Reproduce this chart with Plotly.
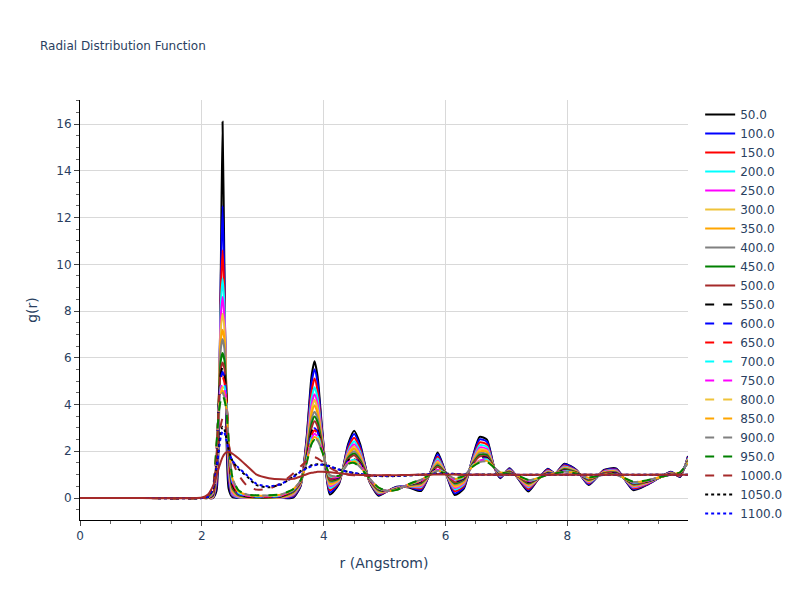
import plotly.graph_objects as go

# r grid (Angstrom)
r = [0.0, 1.0, 2.0, 2.1, 2.18, 2.24, 2.28, 2.31, 2.34, 2.37, 2.40, 2.44, 2.5,
     2.6, 2.75, 2.9, 3.1, 3.3, 3.5, 3.62, 3.72, 3.8, 3.85, 3.9, 3.98, 4.1,
     4.25, 4.4, 4.5, 4.6, 4.75, 4.9, 5.05, 5.2, 5.4, 5.6, 5.75, 5.87, 6.0,
     6.15, 6.3, 6.45, 6.56, 6.68, 6.8, 6.9, 7.05, 7.2, 7.36, 7.52, 7.68, 7.8,
     7.95, 8.15, 8.35, 8.6, 8.8, 9.08, 9.3, 9.5, 9.7, 9.85, 9.98]

temperatures = ["50.0", "100.0", "150.0", "200.0", "250.0", "300.0", "350.0",
                "400.0", "450.0", "500.0", "550.0", "600.0", "650.0", "700.0",
                "750.0", "800.0", "850.0", "900.0", "950.0", "1000.0",
                "1050.0", "1100.0"]

g_50 = [0, 0, 0, 0, 0.0, 0.3, 3.0, 9.5, 16.1, 10.0, 3.2, 0.4, 0.05, 0, 0, 0, 0, 0,
        0.02, 0.5, 2.6, 5.2, 5.85, 5.2, 2.8, 0.15, 0.6, 2.3, 2.88, 2.3, 0.7, 0.1, 0.3,
        0.48, 0.45, 0.3, 1.1, 1.95, 1.1, 0.13, 0.4, 1.8, 2.62, 2.5, 1.3, 0.85, 1.27,
        0.8, 0.28, 0.8, 1.25, 1.05, 1.47, 1.2, 0.56, 1.2, 1.27, 0.34, 0.55, 0.85,
        1.12, 0.9, 1.8]
g_100 = [0, 0, 0, 0, 0.0, 0.5, 3.6, 9.2, 12.5, 9.4, 3.9, 0.7, 0.08, 0.01, 0, 0, 0, 0,
         0.06, 0.53, 2.49, 4.91, 5.51, 4.92, 2.72, 0.24, 0.64, 2.22, 2.74, 2.2, 0.72,
         0.14, 0.3, 0.47, 0.47, 0.35, 1.09, 1.87, 1.1, 0.2, 0.46, 1.76, 2.51, 2.41,
         1.3, 0.88, 1.25, 0.82, 0.33, 0.81, 1.23, 1.05, 1.44, 1.19, 0.59, 1.18, 1.24,
         0.38, 0.57, 0.85, 1.11, 0.92, 1.77]
g_150 = [0, 0, 0, 0, 0.01, 0.7, 4.0, 8.7, 10.6, 8.8, 4.4, 1.0, 0.12, 0.02, 0, 0, 0, 0.01,
         0.1, 0.56, 2.36, 4.56, 5.11, 4.58, 2.61, 0.34, 0.68, 2.11, 2.58, 2.08, 0.73,
         0.18, 0.3, 0.45, 0.48, 0.41, 1.08, 1.77, 1.09, 0.29, 0.52, 1.7, 2.38, 2.29,
         1.3, 0.91, 1.22, 0.83, 0.39, 0.81, 1.2, 1.05, 1.39, 1.17, 0.63, 1.16, 1.21,
         0.42, 0.59, 0.86, 1.09, 0.94, 1.73]
g_200 = [0, 0, 0, 0, 0.02, 0.9, 4.2, 8.2, 9.4, 8.3, 4.7, 1.2, 0.17, 0.03, 0.01, 0, 0, 0.01,
         0.14, 0.58, 2.24, 4.24, 4.74, 4.28, 2.52, 0.43, 0.72, 2.02, 2.43, 1.97, 0.75,
         0.22, 0.3, 0.44, 0.5, 0.47, 1.07, 1.69, 1.08, 0.37, 0.58, 1.65, 2.26, 2.19,
         1.3, 0.93, 1.2, 0.85, 0.45, 0.82, 1.17, 1.05, 1.35, 1.15, 0.67, 1.13, 1.18,
         0.46, 0.62, 0.86, 1.08, 0.97, 1.7]
g_250 = [0, 0, 0, 0, 0.03, 1.05, 4.3, 7.7, 8.6, 7.8, 4.8, 1.4, 0.22, 0.05, 0.01, 0, 0, 0.02,
         0.17, 0.61, 2.14, 3.98, 4.44, 4.02, 2.44, 0.51, 0.75, 1.94, 2.3, 1.88, 0.76,
         0.25, 0.3, 0.43, 0.51, 0.51, 1.06, 1.61, 1.08, 0.43, 0.63, 1.61, 2.16, 2.1,
         1.3, 0.96, 1.18, 0.86, 0.49, 0.82, 1.15, 1.05, 1.32, 1.14, 0.69, 1.12, 1.16,
         0.49, 0.63, 0.86, 1.07, 0.98, 1.67]
g_300 = [0, 0, 0, 0, 0.04, 1.2, 4.4, 7.2, 7.9, 7.3, 4.9, 1.6, 0.28, 0.07, 0.02, 0.01, 0.01, 0.03,
         0.2, 0.62, 2.06, 3.78, 4.2, 3.83, 2.38, 0.57, 0.77, 1.88, 2.2, 1.81, 0.77,
         0.27, 0.3, 0.42, 0.52, 0.55, 1.05, 1.56, 1.08, 0.48, 0.67, 1.58, 2.08, 2.03,
         1.3, 0.97, 1.16, 0.87, 0.53, 0.82, 1.13, 1.05, 1.3, 1.13, 0.72, 1.1, 1.14,
         0.52, 0.65, 0.86, 1.06, 1.0, 1.65]
g_350 = [0, 0, 0, 0, 0.06, 1.35, 4.4, 6.7, 7.2, 6.8, 4.9, 1.75, 0.34, 0.09, 0.03, 0.01, 0.01, 0.04,
         0.22, 0.64, 1.98, 3.58, 3.96, 3.63, 2.32, 0.63, 0.8, 1.82, 2.11, 1.74, 0.78,
         0.3, 0.3, 0.41, 0.53, 0.58, 1.04, 1.5, 1.07, 0.53, 0.71, 1.55, 2.0, 1.97,
         1.3, 0.99, 1.15, 0.88, 0.56, 0.83, 1.11, 1.05, 1.27, 1.12, 0.74, 1.09, 1.12,
         0.54, 0.66, 0.87, 1.05, 1.01, 1.63]
g_400 = [0, 0, 0, 0, 0.08, 1.5, 4.4, 6.35, 6.8, 6.4, 4.85, 1.9, 0.4, 0.11, 0.04, 0.02, 0.02, 0.05,
         0.25, 0.66, 1.9, 3.34, 3.69, 3.41, 2.26, 0.69, 0.82, 1.76, 2.0, 1.66, 0.8,
         0.32, 0.3, 0.4, 0.55, 0.62, 1.04, 1.44, 1.07, 0.59, 0.75, 1.51, 1.92, 1.89,
         1.3, 1.01, 1.13, 0.9, 0.6, 0.83, 1.09, 1.05, 1.25, 1.1, 0.77, 1.07, 1.1,
         0.57, 0.68, 0.87, 1.04, 1.03, 1.61]
g_450 = [0, 0, 0, 0, 0.1, 1.6, 4.3, 5.85, 6.2, 5.9, 4.7, 2.0, 0.46, 0.13, 0.05, 0.02, 0.02, 0.06,
         0.27, 0.68, 1.83, 3.17, 3.49, 3.24, 2.21, 0.75, 0.85, 1.71, 1.91, 1.6, 0.81,
         0.35, 0.3, 0.39, 0.56, 0.65, 1.03, 1.39, 1.07, 0.63, 0.79, 1.49, 1.85, 1.84,
         1.3, 1.03, 1.12, 0.91, 0.63, 0.84, 1.08, 1.05, 1.23, 1.1, 0.78, 1.06, 1.08,
         0.59, 0.69, 0.87, 1.04, 1.04, 1.59]
g_500 = [0, 0, 0, 0, 0.12, 1.7, 4.2, 5.5, 5.8, 5.55, 4.6, 2.1, 0.52, 0.15, 0.06, 0.03, 0.03, 0.07,
         0.29, 0.69, 1.76, 3.0, 3.29, 3.07, 2.15, 0.8, 0.87, 1.65, 1.83, 1.54, 0.81,
         0.37, 0.3, 0.38, 0.56, 0.68, 1.02, 1.34, 1.06, 0.68, 0.82, 1.46, 1.78, 1.78,
         1.3, 1.04, 1.1, 0.91, 0.66, 0.84, 1.06, 1.05, 1.2, 1.09, 0.8, 1.05, 1.07,
         0.61, 0.7, 0.87, 1.03, 1.05, 1.57]
g_550 = [0, 0, 0, 0.01, 0.14, 1.8, 4.15, 5.3, 5.6, 5.35, 4.5, 2.2, 0.58, 0.17, 0.07, 0.04, 0.04, 0.08,
         0.32, 0.71, 1.7, 2.82, 3.09, 2.9, 2.1, 0.85, 0.89, 1.6, 1.75, 1.48, 0.82,
         0.39, 0.3, 0.37, 0.57, 0.71, 1.02, 1.29, 1.06, 0.72, 0.85, 1.43, 1.72, 1.72,
         1.3, 1.06, 1.09, 0.92, 0.69, 0.84, 1.05, 1.05, 1.18, 1.08, 0.82, 1.04, 1.05,
         0.64, 0.71, 0.87, 1.02, 1.06, 1.55]
g_600 = [0, 0, 0, 0.01, 0.16, 1.9, 4.1, 5.1, 5.4, 5.15, 4.4, 2.25, 0.63, 0.19, 0.08, 0.05, 0.05, 0.09,
         0.33, 0.71, 1.67, 2.74, 2.99, 2.82, 2.08, 0.87, 0.9, 1.58, 1.71, 1.45, 0.83,
         0.4, 0.3, 0.37, 0.58, 0.73, 1.02, 1.27, 1.06, 0.74, 0.87, 1.42, 1.69, 1.69,
         1.3, 1.06, 1.08, 0.93, 0.71, 0.84, 1.04, 1.05, 1.17, 1.07, 0.83, 1.03, 1.04,
         0.65, 0.72, 0.88, 1.02, 1.07, 1.55]
g_650 = [0, 0, 0, 0.02, 0.18, 1.95, 4.0, 4.9, 5.2, 4.95, 4.3, 2.3, 0.68, 0.21, 0.09, 0.06, 0.06, 0.1,
         0.34, 0.72, 1.64, 2.66, 2.9, 2.75, 2.06, 0.89, 0.91, 1.56, 1.67, 1.43, 0.83,
         0.41, 0.3, 0.37, 0.58, 0.74, 1.01, 1.25, 1.06, 0.76, 0.88, 1.41, 1.66, 1.67,
         1.3, 1.07, 1.08, 0.93, 0.72, 0.84, 1.03, 1.05, 1.16, 1.07, 0.84, 1.03, 1.03,
         0.66, 0.73, 0.88, 1.02, 1.08, 1.54]
g_700 = [0, 0, 0, 0.02, 0.2, 2.0, 3.95, 4.75, 5.0, 4.8, 4.2, 2.35, 0.73, 0.23, 0.1, 0.07, 0.07, 0.11,
         0.34, 0.73, 1.61, 2.59, 2.82, 2.68, 2.04, 0.92, 0.92, 1.54, 1.64, 1.4, 0.84,
         0.42, 0.3, 0.36, 0.59, 0.75, 1.01, 1.23, 1.06, 0.78, 0.9, 1.4, 1.63, 1.65,
         1.3, 1.08, 1.07, 0.94, 0.73, 0.85, 1.03, 1.05, 1.16, 1.07, 0.85, 1.02, 1.03,
         0.66, 0.73, 0.88, 1.01, 1.08, 1.53]
g_750 = [0, 0, 0, 0.02, 0.22, 2.05, 3.9, 4.65, 4.9, 4.7, 4.15, 2.4, 0.77, 0.25, 0.11, 0.08, 0.08, 0.12,
         0.35, 0.73, 1.59, 2.53, 2.75, 2.62, 2.02, 0.93, 0.92, 1.52, 1.61, 1.38, 0.84,
         0.42, 0.3, 0.36, 0.59, 0.76, 1.01, 1.21, 1.05, 0.79, 0.91, 1.39, 1.61, 1.63,
         1.3, 1.08, 1.07, 0.94, 0.74, 0.85, 1.02, 1.05, 1.15, 1.06, 0.85, 1.02, 1.02,
         0.67, 0.73, 0.88, 1.01, 1.08, 1.52]
g_800 = [0, 0, 0, 0.03, 0.24, 2.1, 3.85, 4.5, 4.75, 4.55, 4.05, 2.42, 0.81, 0.27, 0.12, 0.09, 0.09, 0.13,
         0.36, 0.74, 1.57, 2.47, 2.68, 2.57, 2.0, 0.95, 0.93, 1.5, 1.58, 1.36, 0.84,
         0.43, 0.3, 0.36, 0.59, 0.77, 1.01, 1.2, 1.05, 0.81, 0.92, 1.38, 1.59, 1.61,
         1.3, 1.09, 1.06, 0.94, 0.75, 0.85, 1.02, 1.05, 1.14, 1.06, 0.86, 1.01, 1.02,
         0.68, 0.74, 0.88, 1.01, 1.09, 1.52]
g_850 = [0, 0, 0, 0.03, 0.26, 2.15, 3.8, 4.38, 4.6, 4.42, 3.95, 2.44, 0.85, 0.29, 0.13, 0.1, 0.1, 0.14,
         0.37, 0.74, 1.54, 2.42, 2.61, 2.51, 1.98, 0.97, 0.94, 1.48, 1.56, 1.34, 0.84,
         0.44, 0.3, 0.36, 0.59, 0.78, 1.0, 1.18, 1.05, 0.82, 0.93, 1.37, 1.56, 1.59,
         1.3, 1.09, 1.06, 0.94, 0.76, 0.85, 1.01, 1.05, 1.13, 1.06, 0.87, 1.01, 1.01,
         0.69, 0.74, 0.88, 1.01, 1.09, 1.51]
g_900 = [0, 0, 0, 0.03, 0.28, 2.2, 3.75, 4.28, 4.5, 4.32, 3.88, 2.46, 0.88, 0.31, 0.14, 0.11, 0.11, 0.15,
         0.37, 0.75, 1.52, 2.36, 2.55, 2.46, 1.97, 0.98, 0.94, 1.47, 1.53, 1.32, 0.85,
         0.44, 0.3, 0.35, 0.6, 0.79, 1.0, 1.17, 1.05, 0.84, 0.94, 1.36, 1.54, 1.57,
         1.3, 1.1, 1.05, 0.95, 0.77, 0.85, 1.0, 1.05, 1.13, 1.05, 0.87, 1.0, 1.0,
         0.69, 0.75, 0.88, 1.0, 1.1, 1.51]
g_950 = [0, 0, 0, 0.06, 0.4, 2.3, 3.7, 4.18, 4.4, 4.2, 3.8, 2.48, 0.92, 0.33, 0.15, 0.12, 0.12, 0.16,
         0.38, 0.75, 1.5, 2.3, 2.48, 2.4, 1.95, 1.0, 0.95, 1.45, 1.5, 1.3, 0.85,
         0.45, 0.3, 0.35, 0.6, 0.8, 1.0, 1.15, 1.05, 0.85, 0.95, 1.35, 1.52, 1.55,
         1.3, 1.1, 1.05, 0.95, 0.78, 0.85, 1.0, 1.05, 1.12, 1.05, 0.88, 1.0, 1.0,
         0.7, 0.75, 0.88, 1.0, 1.1, 1.5]
g_1000 = [0, 0, 0, 0.1, 0.5, 1.6, 2.5, 3.1, 3.4, 3.3, 2.9, 2.3, 1.6, 1.0, 0.5, 0.36, 0.4, 0.64,
          1.05, 1.35, 1.58, 1.72, 1.75, 1.7, 1.55, 1.3, 1.1, 1.0, 0.97, 0.95, 0.95,
          0.96, 0.97, 0.98, 0.99, 1.0, 1.02, 1.03, 1.03, 1.02, 1.0, 1.0, 1.01, 1.01,
          1.0, 1.0, 1.0, 1.0, 0.99, 0.99, 1.0, 1.0, 1.01, 1.0, 1.0, 1.0, 1.0,
          0.99, 0.99, 1.0, 1.0, 1.0, 1.0]
g_1050 = [0, 0, 0, 0.05, 0.35, 1.3, 2.2, 2.8, 3.05, 2.95, 2.6, 2.1, 1.6, 1.25, 0.9, 0.55, 0.46, 0.58,
          0.92, 1.15, 1.3, 1.4, 1.43, 1.45, 1.44, 1.36, 1.22, 1.12, 1.06, 1.02, 0.97,
          0.94, 0.93, 0.94, 0.97, 1.0, 1.03, 1.05, 1.05, 1.03, 1.0, 0.99, 1.0, 1.01,
          1.01, 1.0, 1.0, 0.99, 0.99, 1.0, 1.0, 1.0, 1.0, 1.0, 1.0, 1.0, 1.0,
          1.0, 1.0, 1.0, 1.0, 1.0, 1.0]
g_1100 = [0, 0, 0, 0.06, 0.4, 1.25, 2.05, 2.6, 2.85, 2.8, 2.5, 2.05, 1.6, 1.3, 0.95, 0.6, 0.5, 0.6,
          0.9, 1.12, 1.27, 1.36, 1.4, 1.42, 1.42, 1.35, 1.22, 1.12, 1.07, 1.03, 0.98,
          0.95, 0.94, 0.95, 0.97, 1.0, 1.02, 1.04, 1.04, 1.03, 1.01, 1.0, 1.0, 1.0,
          1.0, 1.0, 1.0, 1.0, 1.0, 1.0, 1.0, 1.0, 1.0, 1.0, 1.0, 1.0, 1.0,
          1.0, 1.0, 1.0, 1.0, 1.0, 1.0]
# broad liquid-like curve drawn on top (brown envelope seen in the reference)
g_liquid = [0, 0, 0.02, 0.15, 0.5, 0.95, 1.3, 1.55, 1.75, 1.88, 1.95, 1.97, 1.9,
            1.7, 1.35, 1.0, 0.85, 0.8, 0.82, 0.92, 1.02, 1.08, 1.1, 1.12, 1.12, 1.1,
            1.06, 1.02, 1.0, 0.99, 0.98, 0.98, 0.98, 0.98, 0.99, 1.0, 1.0, 1.01, 1.01,
            1.01, 1.0, 1.0, 1.0, 1.0, 1.0, 1.0, 1.0, 1.0, 1.0, 1.0, 1.0, 1.0,
            1.0, 1.0, 1.0, 1.0, 1.0, 1.0, 1.0, 1.0, 1.0, 1.0, 1.0]

series = [g_50, g_100, g_150, g_200, g_250, g_300, g_350, g_400, g_450, g_500,
          g_550, g_600, g_650, g_700, g_750, g_800, g_850, g_900, g_950, g_1000,
          g_1050, g_1100]

colors = ["black", "blue", "red", "cyan", "magenta", "#EFC33A", "orange",
          "gray", "green", "brown"]
dashes = ["solid", "dash", "dot"]

for i, s in enumerate(series + [g_liquid]):
    if len(s) != len(r):
        raise ValueError(f"series #{i} has {len(s)} values, expected {len(r)}")

fig = go.Figure()
for i, (name, s) in enumerate(zip(temperatures, series)):
    fig.add_trace(go.Scatter(
        x=r, y=s, mode="lines", name=name,
        line=dict(color=colors[i % 10], dash=dashes[i // 10], width=2,
                  shape="spline", smoothing=0.6),
    ))
fig.add_trace(go.Scatter(
    x=r, y=g_liquid, mode="lines", name="liquid", showlegend=False,
    line=dict(color="brown", width=2, shape="spline", smoothing=0.6),
))

axis_style = dict(
    showgrid=True, gridcolor="#D9D9D9", showline=True, linecolor="black",
    linewidth=1, ticks="outside", ticklen=5, tickcolor="#444",
    zeroline=False,
    minor=dict(ticks="outside", ticklen=3, tickcolor="#666", showgrid=False),
)

fig.update_layout(
    width=800, height=600,
    font=dict(family="DejaVu Sans, Verdana, sans-serif", size=12, color="#2a3f5f"),
    title=dict(text="Radial Distribution Function", font=dict(size=12)),
    plot_bgcolor="white", paper_bgcolor="white",
    margin=dict(l=80, r=112, t=100, b=80),
    legend=dict(maxheight=600),
    xaxis=dict(title="r (Angstrom)", range=[0, 9.98], dtick=2, **axis_style),
    yaxis=dict(title="g(r)", range=[-0.94, 17.03], dtick=2, **axis_style),
)

fig.write_html("out.html", post_script="document.body.style.margin='0';",
               config={"displayModeBar": False})
